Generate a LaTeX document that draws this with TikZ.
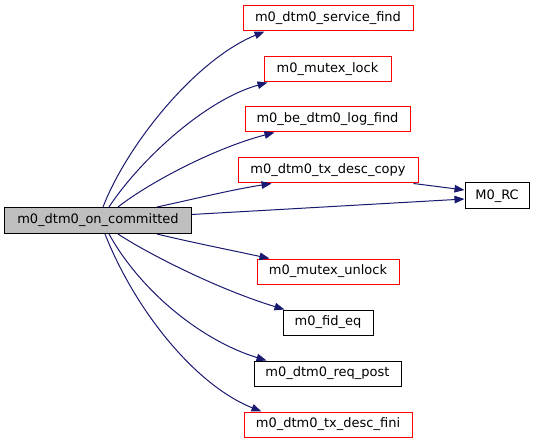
\documentclass[tikz,border=0pt]{standalone}
\usepackage{fontspec}
\setmainfont{DejaVu Sans}
\usetikzlibrary{arrows.meta}
\definecolor{edgeblue}{RGB}{25,25,112}
\definecolor{boxgray}{RGB}{191,191,191}
\tikzset{
  fn/.style={draw=black, line width=1bp, fill=white, inner sep=0pt, minimum height=25bp,
    text height=9.6bp, text depth=3bp, font=\fontsize{13bp}{15bp}\selectfont},
  redfn/.style={fn, draw=red},
  mainfn/.style={fn, fill=boxgray, minimum height=26bp},
  call/.style={draw=edgeblue, line width=1bp, -{Triangle[length=10bp,width=7.5bp]}, color=edgeblue}
}
\begin{document}
\begin{tikzpicture}[x=1bp,y=-1bp]
\useasboundingbox (0,0) rectangle (536,443);
\node[mainfn, minimum width=186bp] (main) at (98,220.5) {m0\_dtm0\_on\_committed};
\node[redfn, minimum width=170bp] (sf) at (328,18.5) {m0\_dtm0\_service\_find};
\node[redfn, minimum width=127bp] (ml) at (327.5,69.5) {m0\_mutex\_lock};
\node[redfn, minimum width=165bp] (blf) at (327.5,119.5) {m0\_be\_dtm0\_log\_find};
\node[redfn, minimum width=180bp] (tdc) at (328,170.5) {m0\_dtm0\_tx\_desc\_copy};
\node[fn, minimum width=64bp, minimum height=26bp] (rc) at (497,196) {M0\_RC};
\node[redfn, minimum width=142bp] (mu) at (328,271.5) {m0\_mutex\_unlock};
\node[fn, minimum width=90bp] (fe) at (328,322.5) {m0\_fid\_eq};
\node[fn, minimum width=147bp] (rp) at (327.5,373.5) {m0\_dtm0\_req\_post};
\node[redfn, minimum width=168bp] (tdf) at (328,424.5) {m0\_dtm0\_tx\_desc\_fini};

\draw[call] ([xshift=5bp]main.north) .. controls (127,145) and (195,60) .. ([xshift=22bp]sf.south west);
\draw[call] ([xshift=11bp]main.north) .. controls (140,160) and (205,100) .. ([xshift=4bp]ml.south west);
\draw[call] ([xshift=20bp]main.north) .. controls (150,182) and (215,148) .. ([xshift=30bp]blf.south west);
\draw[call] ([xshift=59bp]main.north) .. controls (190,200) and (230,190) .. ([xshift=34bp]tdc.south west);
\draw[call] ([xshift=-5bp]tdc.south east) -- ([yshift=6bp]rc.west);
\draw[call] ([yshift=6bp]main.east) -- ([yshift=-3bp]rc.west);
\draw[call] ([xshift=59bp]main.south) .. controls (190,242) and (230,250) .. ([xshift=13bp]mu.north west);
\draw[call] ([xshift=20bp]main.south) .. controls (150,255) and (220,290) .. ([xshift=2bp]fe.north west);
\draw[call] ([xshift=11bp]main.south) .. controls (140,290) and (200,340) .. ([xshift=13bp]rp.north west);
\draw[call] ([xshift=7bp]main.south) .. controls (135,310) and (195,385) .. ([xshift=18bp]tdf.north west);
\end{tikzpicture}
\end{document}
